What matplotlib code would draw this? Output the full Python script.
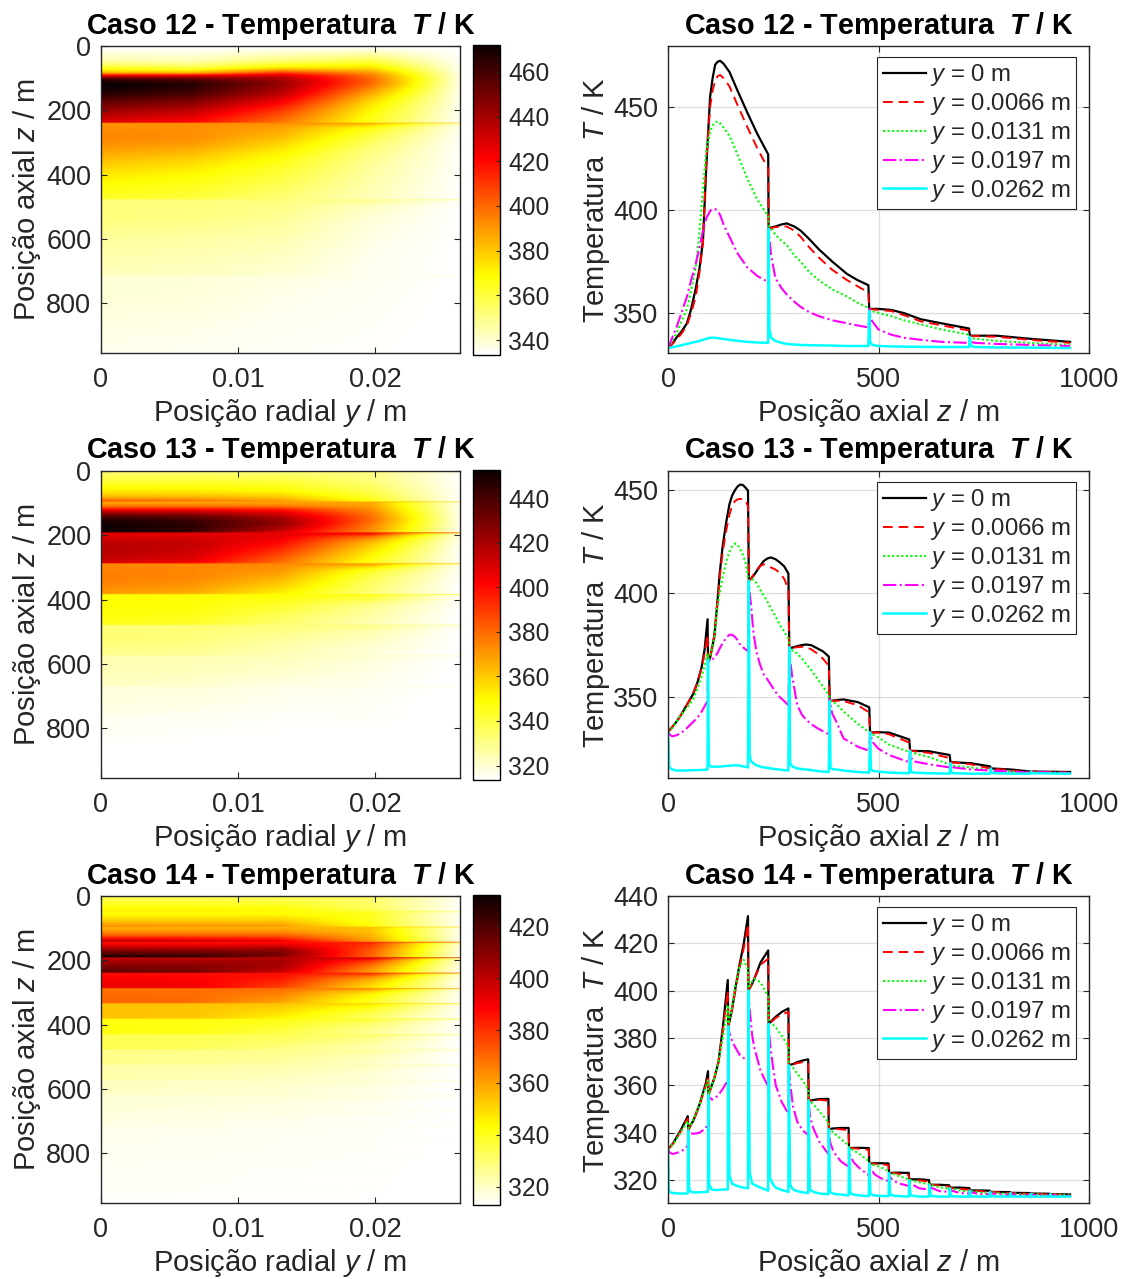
import numpy as np
import matplotlib
matplotlib.use("Agg")
import matplotlib.pyplot as plt

plt.rcParams["font.family"] = ["Liberation Sans", "DejaVu Sans"]
plt.rcParams["mathtext.fontset"] = "custom"
plt.rcParams["mathtext.rm"] = "Liberation Sans"
plt.rcParams["mathtext.it"] = "Liberation Sans:italic"
plt.rcParams["mathtext.bf"] = "Liberation Sans:bold"
plt.rcParams["mathtext.bfit"] = "Liberation Sans:italic:bold"

y_pos = [0, 0.0066, 0.0131, 0.0197, 0.0262]
y_labels = ["$y$ = 0 m", "$y$ = 0.0066 m", "$y$ = 0.0131 m", "$y$ = 0.0197 m", "$y$ = 0.0262 m"]

# caso 12
z_12 = [0, 10, 20, 32, 45, 55, 66, 75, 83, 91, 100, 106, 112, 118, 124, 132, 146, 165, 189, 212, 238,
        239, 241, 245, 255, 270, 282, 300, 315, 335, 358, 390, 425, 450, 476,
        478, 480, 485, 500, 530, 560, 600, 650, 715,
        717, 719, 730, 780, 860, 955]
t0_12 = [333, 335, 338, 341, 345, 352, 362, 372, 385, 421, 455, 464, 470.5, 472, 472.4, 471, 467, 458, 447, 437, 427,
         391, 391.3, 391.5, 392, 393, 393.5, 392, 390, 386, 381, 375, 369, 366, 363.5,
         352, 352, 352, 352, 351.5, 350, 347, 345, 342.5,
         339, 339, 339, 339, 337.5, 336]
t1_12 = [333, 335, 337, 340, 344, 350, 358, 370, 384, 424, 450, 458, 463, 465, 465.5, 464, 460, 451, 440, 430, 420,
         391, 391.2, 391.3, 391.7, 392, 392, 390, 387, 382, 377, 371, 366, 363, 360,
         352, 352, 351.8, 351.5, 351, 349, 346, 344, 341.5,
         338.8, 338.8, 338.8, 338.5, 337, 335.5]
t2_12 = [333, 336.5, 340, 346, 352, 361, 372, 390, 410, 429, 438, 441, 442.5, 443, 442, 440, 436, 427, 415, 405, 397,
         393, 392, 391, 388, 385, 383, 378, 375, 370, 366, 361.5, 358, 355, 352.5,
         352, 351.5, 351, 350, 348.5, 346.5, 344.5, 342, 339.5,
         338, 337.8, 337.5, 336.5, 335.5, 334.5]
t3_12 = [333, 338, 343, 350, 358, 366, 374, 382, 390, 396, 399.5, 400.5, 400.5, 399.5, 397.5, 393, 387, 379, 372, 368, 365,
         391, 386, 378, 367, 362, 359, 355.5, 353, 350.5, 348.5, 346.5, 345, 344, 343,
         352, 349, 346, 342, 339.5, 338, 337, 336, 335.5,
         337, 336, 335.5, 335, 334.5, 334]
t4_12 = [333, 333.4, 333.8, 334.4, 335, 335.5, 336, 336.5, 337, 337.5, 338, 338, 338, 337.8, 337.6, 337.4, 337, 336.5, 336, 335.7, 335.5,
         391, 342, 338, 336.5, 335.5, 335, 334.7, 334.5, 334.4, 334.3, 334.2, 334, 334, 334,
         351, 336, 334.5, 334, 333.8, 333.7, 333.6, 333.5, 333.5,
         338.5, 334, 333.5, 333.3, 333.2, 333]

# caso 13
z_13 = [0, 3, 10, 20, 30, 40, 50, 60, 70, 80, 87, 94,
        95, 97, 100, 110, 117, 123, 130, 138, 146, 152, 159, 165, 172, 178, 184, 190,
        192, 194, 197, 203, 210, 218, 227, 236, 244, 255, 265, 276, 286,
        288, 290, 295, 307, 318, 328, 340, 354, 368, 382,
        384, 386, 390, 400, 417, 451, 478,
        480, 482, 487, 500, 525, 573,
        575, 577, 582, 620, 669,
        671, 673, 678, 720, 765,
        767, 769, 815, 861,
        863, 865, 955]
t0_13 = [333, 333.8, 335.5, 338, 341, 344.5, 348, 351.5, 357, 364.5, 373, 387.5,
         367, 367.5, 369, 379, 395, 410, 423, 434, 443, 447, 449.7, 451.5, 452.5, 452.2, 451, 449.5,
         406, 406.5, 407, 408.5, 410.5, 413, 415.5, 416.8, 417.3, 416.5, 415, 413, 409.5,
         373.5, 373.6, 373.8, 374.5, 375, 375.3, 375, 373.5, 372, 369.5,
         348, 348.1, 348.2, 348.5, 348.8, 347.5, 345,
         332.8, 332.8, 332.9, 333, 332.8, 329.5,
         324, 324, 324, 323.8, 322,
         318.5, 318.5, 318.5, 318, 316.5,
         315.5, 315.5, 315, 314,
         314, 314, 313.8]
t1_13 = [333, 333.8, 335.5, 338, 341, 344.5, 348, 352, 357, 364, 371, 380,
         367, 367.5, 369, 380, 395, 408, 420, 430, 438, 442, 444.5, 445.3, 445.5, 445.5, 445, 442,
         406, 406.5, 407, 409, 411, 413, 414, 413.5, 412.5, 411.5, 410, 407, 402,
         373.5, 373.6, 373.7, 374, 374.2, 374, 373, 371, 368.5, 365,
         348, 348, 348.1, 348.2, 348, 346, 342.5,
         333, 333, 332.9, 332.8, 332, 328,
         324, 324, 323.9, 323, 320.5,
         318.5, 318.5, 318.4, 317.5, 315.5,
         315.5, 315.5, 314.5, 313.5,
         314, 314, 313.5]
t2_13 = [333, 333.7, 335, 338, 341, 343.5, 346, 349, 354, 360, 365, 371,
         368, 368.5, 370, 378, 393, 401, 408, 415, 420, 422.5, 424, 423.5, 421, 418.5, 415, 408,
         406, 406.5, 407, 406.5, 405, 402, 399, 396, 393, 389, 385, 381.5, 378,
         374, 373.5, 372.5, 371, 368.5, 366, 363, 359, 355, 351,
         349, 348.5, 348, 346.5, 343, 337, 333,
         332.8, 332.5, 331.8, 330.5, 327, 323.5,
         323.5, 323.3, 323, 321, 317.5,
         317, 316.9, 316.8, 316, 314.5,
         314.5, 314.4, 314, 313.5,
         313.5, 313.5, 313]
t3_13 = [333, 332, 331, 331.5, 332.5, 334, 336, 338, 340, 343, 345.5, 348,
         368, 367.5, 367, 369, 371, 373.5, 376, 378.5, 380, 380, 379, 377.5, 375, 374, 373, 372,
         406, 400, 395, 381, 372, 366, 361, 358.5, 356, 352.5, 350, 348, 346,
         374, 368, 360, 346, 341.5, 339, 337, 335, 333.5, 332,
         349, 346, 342, 338, 330, 326, 324,
         333, 331, 328, 325, 322, 318.5,
         324, 321, 319, 317.5, 316,
         318, 316.8, 316, 315, 314.5,
         315.5, 314.5, 314, 313.5,
         314, 313.8, 313.3]
t4_13 = [333, 316, 315, 314.5, 314.5, 314.5, 314.6, 314.7, 314.7, 314.8, 314.9, 315,
         368, 318, 316.5, 316.3, 316.4, 316.4, 316.5, 316.7, 316.8, 316.9, 317, 317, 316.8, 316.5, 316.3, 316,
         406, 322, 319, 318, 317, 316.5, 316, 315.8, 315.5, 315.2, 315, 314.7, 314.5,
         374, 318, 316.5, 315.5, 315.2, 315, 314.7, 314.3, 314, 313.8,
         348, 316, 315.2, 315, 314.5, 313.8, 313.5,
         333, 315, 314.3, 314, 313.5, 313.2,
         324, 314, 313.5, 313.2, 313,
         318, 313.5, 313.2, 313, 313,
         315.5, 313.3, 313, 313,
         314, 313.2, 313]

# caso 14
z_14 = [0, 2, 5, 12, 30, 40, 47,
        48, 50, 53, 60, 75, 90, 95,
        96, 98, 104, 110, 120, 130, 142,
        143, 146, 152, 160, 170, 180, 190,
        191, 194, 200, 205, 220, 238,
        239, 242, 250, 256, 270, 286,
        287, 290, 297, 307, 320, 333,
        334, 337, 345, 360, 381,
        382, 385, 393, 410, 429,
        430, 433, 441, 455, 477,
        478, 481, 490, 505, 524,
        525, 528, 538, 550, 572,
        573, 576, 597, 620,
        621, 624, 645, 668,
        669, 672, 693, 716,
        717, 720, 741, 764,
        765, 768, 812,
        813, 816, 860,
        861, 864, 907,
        908, 911, 955]
t0_14 = [333, 333.5, 334, 335.5, 341, 344.5, 347,
         341, 341.8, 343, 345, 352, 361, 366,
         356, 357, 360, 363, 370, 384, 404.5,
         385, 387, 392, 401, 411, 420, 431.5,
         400, 401, 403, 405, 412, 417,
         386, 386.5, 388, 389, 391, 392.5,
         368.5, 368.7, 369, 369.8, 370.5, 371,
         353.5, 353.6, 353.8, 354.2, 354.3,
         341.5, 341.6, 341.8, 342, 342,
         333.5, 333.5, 333.6, 333.6, 333.5,
         327, 327, 327.1, 327.1, 327,
         323, 323, 323.1, 323.1, 323,
         320.3, 320.3, 320.3, 320,
         318, 318, 318, 317.8,
         316.8, 316.8, 316.8, 316.6,
         315.6, 315.6, 315.6, 315.5,
         315, 315, 314.9,
         314.6, 314.6, 314.5,
         314.3, 314.3, 314.2,
         314, 314, 313.9]
t1_14 = [333, 333.4, 334, 335.3, 340.5, 344, 346,
         341, 341.7, 343, 345, 351.5, 360, 364,
         356, 357, 360, 363, 370, 383, 400,
         385, 387, 392, 400, 410, 418, 428,
         400, 401, 403, 405, 411, 413.5,
         386, 386.4, 387.5, 388.5, 390, 391,
         368.5, 368.6, 368.8, 369.4, 369.8, 369.5,
         353.5, 353.5, 353.7, 353.9, 353.5,
         341.5, 341.5, 341.6, 341.5, 341,
         333.5, 333.5, 333.4, 333.2, 332.8,
         327, 327, 326.9, 326.7, 326.3,
         323, 323, 322.9, 322.6, 322.2,
         320, 320, 319.8, 319.4,
         318, 318, 317.7, 317.2,
         316.6, 316.6, 316.3, 315.9,
         315.5, 315.5, 315.3, 315,
         315, 315, 314.5,
         314.5, 314.5, 314.1,
         314.2, 314.2, 313.9,
         314, 314, 313.7]
t2_14 = [333, 333.3, 334, 335, 340, 343, 345,
         342, 342.3, 343, 345.5, 352, 359.5, 362,
         356, 357, 360, 363, 370, 380, 394,
         385, 388, 393, 402, 410, 413, 409,
         400, 402, 404, 405, 403.5, 397.5,
         386, 386, 385.5, 384.5, 381, 376.5,
         368.5, 368.3, 367.5, 365, 362, 358.5,
         353.5, 353.3, 352, 349, 344.5,
         341.5, 341.3, 340, 337.5, 334.5,
         333.5, 333.3, 332.5, 331, 328,
         327, 326.9, 326.3, 325.5, 323.7,
         323, 322.9, 322.4, 321.6, 320.3,
         320, 319.9, 319, 318.3,
         318, 317.9, 317, 316.2,
         316.5, 316.4, 315.6, 315,
         315.5, 315.3, 314.7, 314.3,
         315, 314.8, 314,
         314.5, 314.4, 313.7,
         314.2, 314.1, 313.6,
         314, 313.9, 313.5]
t3_14 = [333, 332.2, 331.5, 331, 332, 333.2, 334.5,
         341, 340.5, 340, 339.5, 340, 342, 344,
         356, 355, 354, 354.3, 356, 358.5, 362,
         385, 382, 379, 376, 373, 371.5, 370.5,
         400, 392, 381, 376, 366, 359.5,
         386, 378, 367, 360, 353, 348,
         368.5, 361, 351, 344.7, 341, 339,
         353.5, 347, 342, 336, 331,
         341.5, 336, 332, 328, 325.6,
         333.5, 330, 327.5, 325, 322,
         327, 325, 322.5, 320.8, 319.5,
         323, 321, 319.5, 318.5, 317.5,
         320, 318.5, 316.5, 316,
         318, 316.8, 315.3, 315,
         316.5, 315.6, 314.5, 314.3,
         315.5, 314.8, 314, 314,
         315, 314.3, 313.7,
         314.5, 314, 313.5,
         314.2, 313.8, 313.4,
         314, 313.6, 313.3]
t4_14 = [333, 316, 314.8, 314.5, 314.3, 314.3, 314.3,
         341, 317, 315.2, 314.8, 314.8, 315, 315,
         356, 318, 316, 315.8, 315.8, 316, 316,
         385, 322, 318.5, 317.8, 317.2, 316.8, 316.5,
         400, 323, 318.5, 318, 316.8, 315.5,
         386, 321, 318, 316.8, 315.8, 315,
         368.5, 318, 316, 315.3, 314.8, 314.5,
         353.5, 316, 315, 314.3, 314,
         341.5, 315, 314.2, 313.9, 313.5,
         333.5, 314.5, 313.8, 313.5, 313.2,
         327, 314, 313.5, 313.3, 313.2,
         323, 313.8, 313.3, 313.2, 313,
         320, 313.5, 313, 313,
         318, 313.3, 313, 313,
         316.5, 313.2, 313, 313,
         315.5, 313.1, 313, 313,
         315, 313.1, 313,
         314.5, 313.1, 313,
         314.2, 313, 313,
         314, 313, 313]

casos = ["Caso 12", "Caso 13", "Caso 14"]
z_all = [z_12, z_13, z_14]
t_all = [[t0_12, t1_12, t2_12, t3_12, t4_12],
         [t0_13, t1_13, t2_13, t3_13, t4_13],
         [t0_14, t1_14, t2_14, t3_14, t4_14]]
clims = [(333.3, 472), (313.5, 452.6), (313, 432)]
cticks = [[340, 360, 380, 400, 420, 440, 460],
          [320, 340, 360, 380, 400, 420, 440],
          [320, 340, 360, 380, 400, 420]]
ylims = [(330.6, 479.6), (310.9, 459), (310.3, 440)]
yticks = [[350, 400, 450], [350, 400, 450], [320, 340, 360, 380, 400, 420, 440]]
tops = [46, 471, 896]

line_colors = ["black", "red", "#00ff00", "magenta", "cyan"]
line_styles = ["-", (0, (5, 3)), (0, (1, 1.2)), "-.", "-"]
line_widths = [1.6, 1.4, 1.5, 1.5, 1.8]

W, H = 1126, 1279
AX_H = 307
DARK = "#262626"
FS_TICK = 19.5
FS_CBAR = 17.7
FS_LABEL = 21
FS_TITLE = 20.7
FS_LEG = 17.3


def box(x0, x1, top, bottom):
    return [x0 / W, 1 - bottom / H, (x1 - x0) / W, (bottom - top) / H]


def style_ax(ax):
    ax.tick_params(direction="in", length=4, width=0.8, top=True, right=True,
                   colors=DARK, labelsize=FS_TICK)
    ax.tick_params(axis="x", pad=10)
    ax.tick_params(axis="y", pad=7)
    for s in ax.spines.values():
        s.set_color(DARK)
        s.set_linewidth(1.0)


def temp_field(z, T):
    # linear between the five radial stations and the axial stations, only to fill the raster
    y_fine = np.linspace(0, y_pos[-1], 360)
    z_fine = np.arange(0, 956)
    by_radius = np.array([np.interp(y_fine, y_pos, T[:, k]) for k in range(len(z))])
    return np.array([np.interp(z_fine, z, by_radius[:, c]) for c in range(len(y_fine))]).T


fig = plt.figure(figsize=(W / 100, H / 100), dpi=100)

for i, caso in enumerate(casos):
    z = np.array(z_all[i])
    T = np.array(t_all[i])
    top = tops[i]
    bottom = top + AX_H
    title = caso + r" - Temperatura  $\mathbfit{T}$ / K"

    ax1 = fig.add_axes(box(101, 460, top, bottom))
    im = ax1.imshow(temp_field(z, T), cmap="hot_r", vmin=clims[i][0], vmax=clims[i][1],
                    extent=(0, 0.0262, 955, 0), aspect="auto", interpolation="bilinear")
    ax1.set_xticks([0, 0.01, 0.02], ["0", "0.01", "0.02"])
    ax1.set_yticks([0, 200, 400, 600, 800])
    ax1.set_xlabel("Posição radial $y$ / m", fontsize=FS_LABEL, color=DARK, labelpad=3)
    ax1.set_ylabel("Posição axial $z$ / m", fontsize=FS_LABEL, color=DARK, labelpad=2)
    ax1.set_title(title, fontsize=FS_TITLE, fontweight="bold", pad=9)
    style_ax(ax1)

    cax = fig.add_axes(box(473, 500, top - 1, bottom + 2))
    cb = fig.colorbar(im, cax=cax)
    cb.set_ticks(cticks[i])
    cb.ax.tick_params(direction="in", length=3, width=0.8, colors=DARK, labelsize=FS_CBAR, pad=6)
    cb.outline.set_edgecolor("black")
    cb.outline.set_linewidth(1.0)

    ax2 = fig.add_axes(box(668, 1089, top, bottom))
    for j in range(5):
        ax2.plot(z, T[j], color=line_colors[j], ls=line_styles[j], lw=line_widths[j],
                 label=y_labels[j])
    ax2.set_xlim(0, 1000)
    ax2.set_ylim(*ylims[i])
    ax2.set_xticks([0, 500, 1000])
    ax2.set_yticks(yticks[i])
    ax2.grid(True, color=DARK, alpha=0.15, lw=0.9)
    ax2.set_axisbelow(True)
    ax2.set_xlabel("Posição axial $z$ / m", fontsize=FS_LABEL, color=DARK, labelpad=3)
    ax2.set_ylabel("Temperatura  $T$ / K", fontsize=FS_LABEL, color=DARK, labelpad=1)
    ax2.set_title(title, fontsize=FS_TITLE, fontweight="bold", pad=9)
    style_ax(ax2)
    leg = ax2.legend(loc="upper right", bbox_to_anchor=(0.969, 0.964), borderaxespad=0,
                     fontsize=FS_LEG, frameon=True, fancybox=False, framealpha=1,
                     edgecolor=DARK, handlelength=1.8, handletextpad=0.15,
                     labelspacing=0.12, borderpad=0.22)
    leg.get_frame().set_linewidth(0.8)
    for t in leg.get_texts():
        t.set_color(DARK)

fig.savefig("out.png", dpi=100)
